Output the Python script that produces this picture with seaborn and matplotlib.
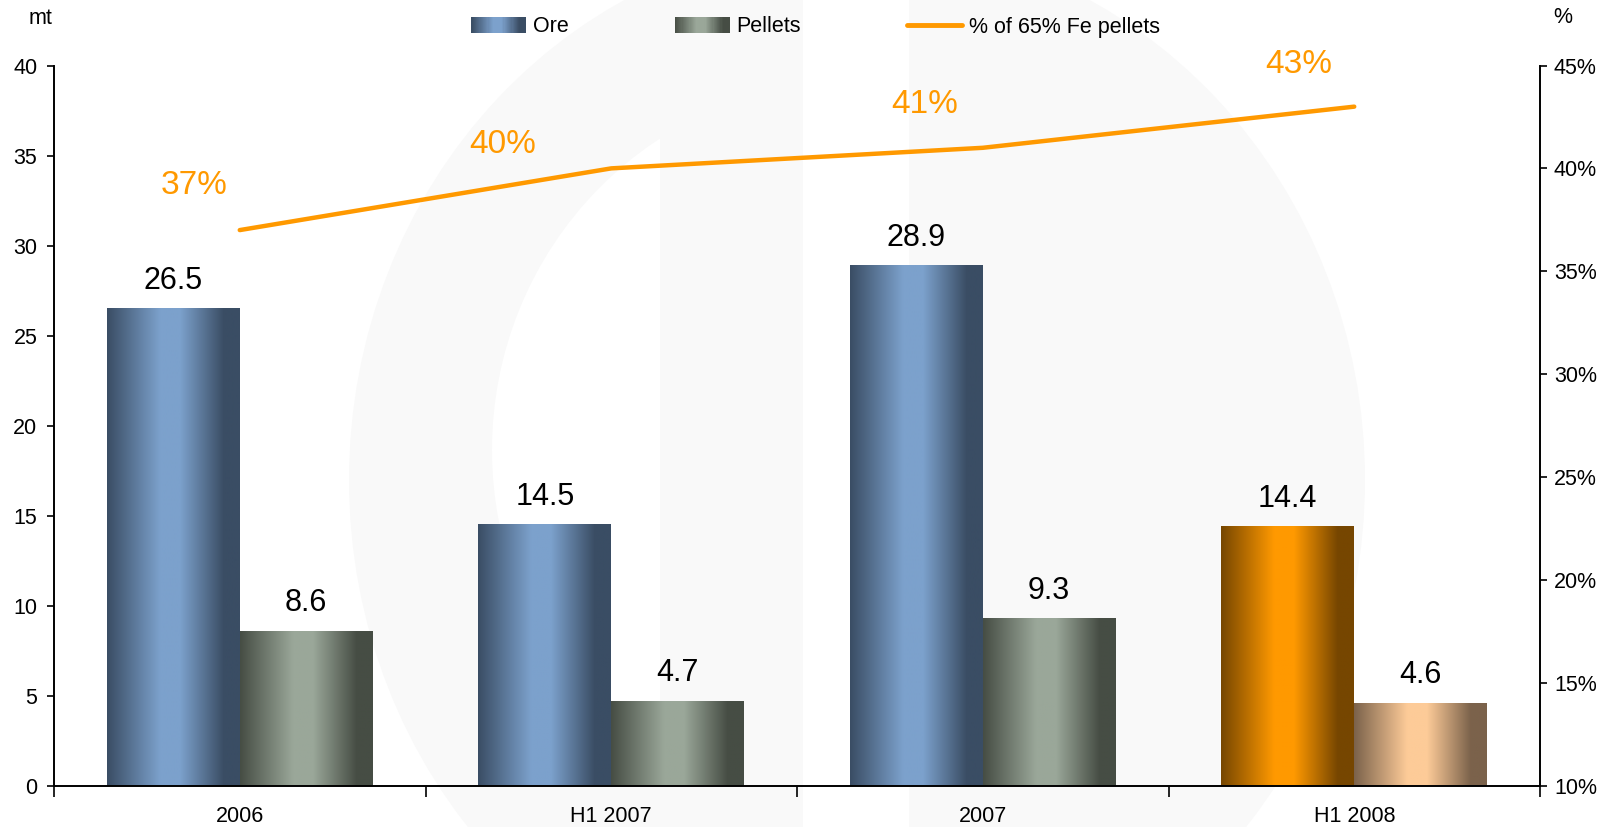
import numpy as np
import pandas as pd
import matplotlib
matplotlib.use("Agg")
import matplotlib.pyplot as plt
import seaborn as sns
from matplotlib.colors import LinearSegmentedColormap
from matplotlib.patches import Rectangle, Ellipse
from matplotlib.legend_handler import HandlerBase
from matplotlib.lines import Line2D

# ---------------- data ----------------
categories = ["2006", "H1 2007", "2007", "H1 2008"]
series = ["Ore", "Pellets"]
ore = [26.5, 14.5, 28.9, 14.4]
pellets = [8.6, 4.7, 9.3, 4.6]
fe65_share = [37, 40, 41, 43]
line_label = "% of 65% Fe pellets"
left_unit = "mt"
right_unit = "%"
y_left_ticks = [0, 5, 10, 15, 20, 25, 30, 35, 40]
y_right_ticks = [10, 15, 20, 25, 30, 35, 40, 45]

# ---------------- style ----------------
sns.set_theme(style="white")
plt.rcParams["font.family"] = ["Liberation Sans", "DejaVu Sans"]
for k in ["text.color", "axes.labelcolor", "xtick.color", "ytick.color", "axes.edgecolor"]:
    plt.rcParams[k] = "black"

ORANGE = "#ff9900"
FS = 15.5


def gcmap(dark, light):
    return LinearSegmentedColormap.from_list(
        "g", [(0, dark), (0.4, light), (0.55, light), (0.88, dark), (1, dark)])


cm_ore = gcmap("#3a4d64", "#7ca1cc")
cm_pel = gcmap("#464d44", "#9aa799")
cm_ore_hl = gcmap("#764600", "#ff9900")
cm_pel_hl = gcmap("#7b624b", "#fdcb98")

fig = plt.figure(figsize=(16.04, 8.27), dpi=100)

# faint watermark in the background
WM = "#f9f9f9"
bg = fig.add_axes([0, 0, 1, 1], zorder=0)
bg.set_xlim(0, 1604)
bg.set_ylim(827, 0)
bg.axis("off")
bg.add_patch(Ellipse((857, 480), 1016, 1080, facecolor=WM, lw=0))
inner = Ellipse((857, 450), 730, 740, facecolor="white", lw=0)
bg.add_patch(inner)
clip = Rectangle((0, 0), 660, 827, transform=bg.transData)
inner.set_clip_path(clip)
bg.add_patch(Rectangle((803, 0), 106, 827, facecolor="white", lw=0))

ax = fig.add_axes([54 / 1604, 1 - 785.6 / 827, (1540 - 54) / 1604, (785.6 - 65.5) / 827], zorder=1)
ax.patch.set_alpha(0)

df = pd.DataFrame({
    "category": categories * 2,
    "series": [s for s in series for _ in categories],
    "value": ore + pellets,
})
sns.barplot(data=df, x="category", y="value", hue="series", order=categories,
            hue_order=series, width=0.716, gap=0, palette=["#7ca1cc", "#9aa799"],
            saturation=1, legend=False, ax=ax)
positions = list(ax.get_xticks())

# gradient fills
for ci, cont in enumerate(ax.containers):
    for bi, bar in enumerate(cont):
        if ci == 0:
            cm = cm_ore_hl if bi == len(categories) - 1 else cm_ore
        else:
            cm = cm_pel_hl if bi == len(categories) - 1 else cm_pel
        x0, w, h = bar.get_x(), bar.get_width(), bar.get_height()
        grad = cm(np.linspace(0, 1, 256))[None, :, :]
        ax.imshow(grad, extent=(x0, x0 + w, 0, h), aspect="auto",
                  interpolation="bilinear", zorder=2)
        bar.set_facecolor("none")
        bar.set_edgecolor("none")
    ax.bar_label(cont, labels=[f"{b.get_height():.1f}" for b in cont],
                 padding=9, fontsize=22, color="black")

ax.set_xlim(-0.5, len(categories) - 0.5)
ax.set_ylim(0, 40)
ax.set_yticks(y_left_ticks)
ax.set_yticklabels([str(t) for t in y_left_ticks], fontsize=FS)
ax.set_xlabel("")
ax.set_ylabel("")

# x ticks: marks at boundaries, labels centered
bounds = [p - 0.5 for p in positions] + [positions[-1] + 0.5]
ax.set_xticks(bounds)
ax.set_xticklabels([""] * len(bounds))
ax.set_xticks(positions, minor=True)
ax.set_xticklabels(categories, minor=True, fontsize=FS)
ax.tick_params(axis="x", which="major", direction="out", length=8, width=1.2, bottom=True)
ax.tick_params(axis="x", which="minor", length=0, pad=15)
ax.tick_params(axis="y", direction="out", length=5, width=1.2, pad=7, left=True)
for s in ["top", "right"]:
    ax.spines[s].set_visible(False)
for s in ["left", "bottom"]:
    ax.spines[s].set_color("black")
    ax.spines[s].set_linewidth(1.4)

# secondary axis
ax2 = ax.twinx()
ax2.set_zorder(2)
sns.lineplot(x=positions, y=fe65_share, color=ORANGE, lw=3.2, ax=ax2, legend=False)
ax2.set_ylim(10, 45)
ax2.set_yticks(y_right_ticks)
ax2.set_yticklabels([f"{t}%" for t in y_right_ticks], fontsize=FS)
ax2.tick_params(axis="y", direction="out", length=5, width=1.2, pad=5, right=True)
for s in ["top", "left", "bottom"]:
    ax2.spines[s].set_visible(False)
ax2.spines["right"].set_color("black")
ax2.spines["right"].set_linewidth(1.4)
ax2.set_ylabel("")

label_offsets = [(-33, 32), (-78, 17), (-42, 31), (-40, 30)]
for p, v, off in zip(positions, fe65_share, label_offsets):
    ax2.annotate(f"{v}%", (p, v), xytext=off, textcoords="offset points",
                 ha="center", va="center", fontsize=24, color=ORANGE)

fig.text(41 / 1604, 1 - 18.5 / 827, left_unit, ha="center", va="center", fontsize=FS)
fig.text(1563 / 1604, 1 - 17.5 / 827, right_unit, ha="center", va="center", fontsize=FS)


# legend with gradient swatches
class GradientHandler(HandlerBase):
    def __init__(self, cmap):
        super().__init__()
        self.cmap = cmap

    def create_artists(self, legend, orig_handle, xdescent, ydescent, width, height,
                       fontsize, trans):
        n = 48
        arts = []
        for k in range(n):
            arts.append(Rectangle((-xdescent + width * k / n, -ydescent),
                                  width / n * 1.08, height,
                                  facecolor=self.cmap((k + 0.5) / n),
                                  edgecolor="none", transform=trans))
        return arts


h_ore = Rectangle((0, 0), 1, 1)
h_pel = Rectangle((0, 0), 1, 1)
h_line = Line2D([0], [0], color=ORANGE, lw=3.5)
fig.legend([h_ore, h_pel, h_line], series + [line_label],
           handler_map={h_ore: GradientHandler(cm_ore), h_pel: GradientHandler(cm_pel)},
           loc="center", bbox_to_anchor=(815.5 / 1604, 1 - 27 / 827), ncol=3, frameon=False,
           fontsize=FS, handlelength=2.55, handleheight=0.7, handletextpad=0.33,
           columnspacing=4.9)

fig.savefig("out.png", dpi=100)
